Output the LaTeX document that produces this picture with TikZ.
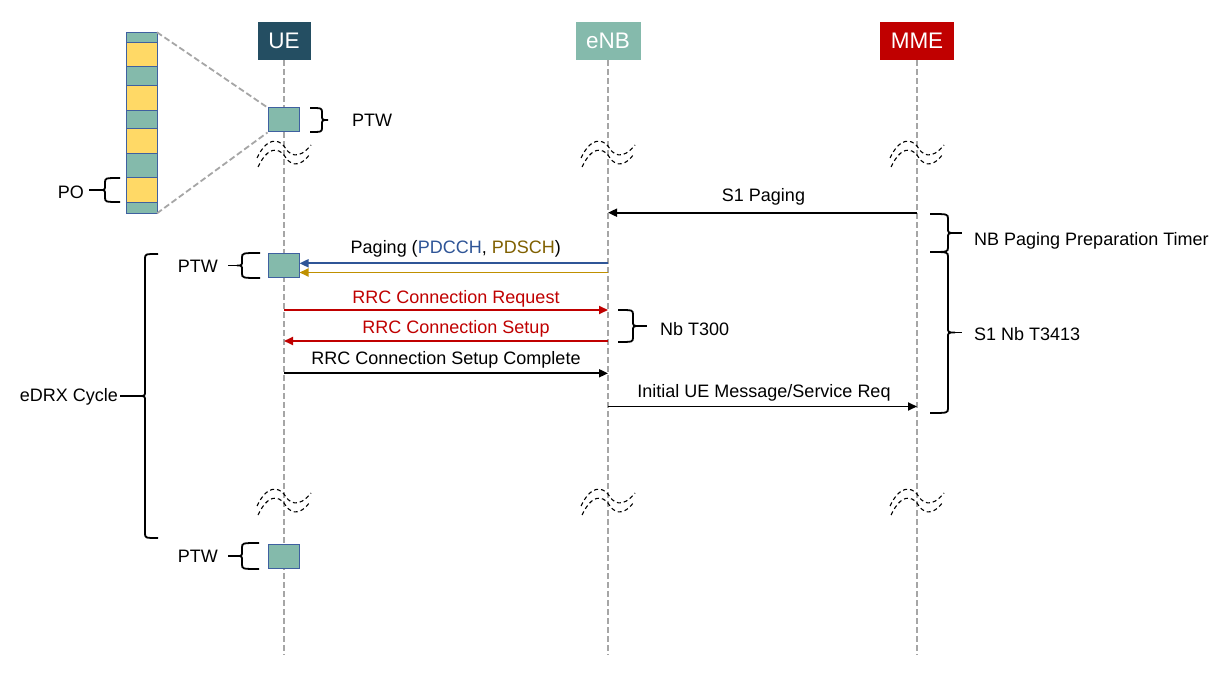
\documentclass[tikz,border=0pt]{standalone}
\usepackage{fontspec}
\setmainfont{Liberation Sans}
\usetikzlibrary{arrows.meta}
\definecolor{uecol}{HTML}{244E62}
\definecolor{enbcol}{HTML}{85BAAC}
\definecolor{mmecol}{HTML}{C00000}
\definecolor{tealc}{HTML}{84BAAB}
\definecolor{boxline}{HTML}{3F60A0}
\definecolor{yelc}{HTML}{FFD966}
\definecolor{bluec}{HTML}{2F5597}
\definecolor{goldc}{HTML}{BF9000}
\definecolor{goldtxt}{HTML}{806000}
\definecolor{redc}{HTML}{C00000}
\definecolor{lifec}{HTML}{A6A6A6}
\newcommand{\vbrace}[6]{%
 \pgfmathsetmacro{\brYm}{(#2+#3)/2}%
 \pgfmathsetmacro{\brV}{#1+#4}%
 \pgfmathsetmacro{\brT}{#1+#4+#5}%
 \draw[bracestyle] (#1,#2) .. controls (\brV,#2) .. (\brV,#2+5) -- (\brV,\brYm-5) .. controls (\brV,\brYm) .. (\brT,\brYm) .. controls (\brV,\brYm) .. (\brV,\brYm+5) -- (\brV,#3-5) .. controls (\brV,#3) .. (#1,#3);
 \draw[bracestyle] (\brT,\brYm) -- (#6,\brYm);
}
\begin{document}
\begin{tikzpicture}[x=1pt,y=-1pt,
  font=\fontsize{18}{21}\selectfont,
  hdr/.style={inner sep=0pt, minimum height=38pt, text=white, font=\fontsize{22.5}{24}\selectfont},
  life/.style={draw=lifec, line width=1.8pt, dash pattern=on 6pt off 3pt},
  zoomln/.style={draw=lifec, line width=1.8pt, dash pattern=on 6pt off 3pt},
  tbox/.style={draw=boxline, fill=tealc, line width=1pt, minimum width=31pt, minimum height=24pt, inner sep=0pt},
  msg/.style={line width=1.8pt, -{Triangle[length=9pt,width=8pt]}},
  lbl/.style={inner sep=0pt, anchor=base},
  txt/.style={inner sep=0pt},
  bracestyle/.style={line width=1.8pt, black},
  brkstyle/.style={line width=1.1pt, dash pattern=on 4pt off 3pt},
  brkpic/.pic={
    \draw[brkstyle] (-27,5) .. controls (-17,-16) and (-6,-14) .. (0,-7) .. controls (5,2) and (14,8) .. (27,-8);
    \draw[brkstyle] (-26,14) .. controls (-16,-7) and (-6,-5) .. (0,2) .. controls (5,11) and (14,17) .. (26,1);
  }
]
\useasboundingbox (0,0) rectangle (1232,676);
\fill[white] (0,0) rectangle (1232,676);

% headers
\node[hdr, fill=uecol, minimum width=53pt] (UE) at (284,41) {UE};
\node[hdr, fill=enbcol, minimum width=65pt] (ENB) at (608,41) {eNB};
\node[hdr, fill=mmecol, minimum width=74pt] (MME) at (917,41) {MME};
\coordinate (UEend) at (284,655);
\coordinate (ENBend) at (608,655);
\coordinate (MMEend) at (917,655);
\draw[life] (UE) -- (UEend);
\draw[life] (ENB) -- (ENBend);
\draw[life] (MME) -- (MMEend);

% breaks
\pic at (284,153) {brkpic};
\pic at (608,153) {brkpic};
\pic at (917,153) {brkpic};
\pic at (284,501) {brkpic};
\pic at (608,501) {brkpic};
\pic at (917,501) {brkpic};

% stack
\foreach \ya/\yb/\cc in {32.3/42.3/tealc, 42.3/66.3/yelc, 66.3/85.3/tealc, 85.3/110.3/yelc, 110.3/128.3/tealc, 128.3/153.3/yelc, 153.3/177.3/tealc, 177.3/202.3/yelc, 202.3/213.3/tealc}
  \filldraw[fill=\cc, draw=boxline, line width=0.8pt] (126,\ya) rectangle (157,\yb);
\coordinate (stTR) at (157,32.3);
\coordinate (stBR) at (157,213.3);

% PTW boxes
\node[tbox] (ptw1) at (283.5,120) {};
\node[tbox] (ptw2) at (283.5,265.5) {};
\node[tbox] (ptw3) at (283.5,556.5) {};
\draw[zoomln] (stTR) -- (ptw1.north west);
\draw[zoomln] (stBR) -- (ptw1.south west);

% braces and labels
\vbrace{310}{108}{132}{12}{6}{328}
\node[txt, anchor=base west] (lptw1) at (352,127) {PTW};
\vbrace{120}{178}{202}{-15}{-5}{89}
\node[txt, anchor=base east] (lpo) at (84,199) {PO};
\vbrace{260}{253}{278}{-18}{-5}{228}
\node[txt, anchor=base east] (lptw2) at (218,272.3) {PTW};
\vbrace{259}{543}{569}{-17}{-5}{228}
\node[txt, anchor=base east] (lptw3) at (218,562.7) {PTW};
\vbrace{158}{254}{538}{-13}{-6}{120}
\node[txt, anchor=base east] (ledrx) at (118,401.7) {eDRX Cycle};
\vbrace{930}{214}{252}{18}{7}{962}
\node[txt, anchor=base west] (lnbp) at (974,245.7) {NB Paging Preparation Timer};
\vbrace{930}{252}{413}{18}{7}{962}
\node[txt, anchor=base west] (ls1t) at (974,341) {S1 Nb T3413};
\vbrace{618}{310}{342}{15}{7}{647}
\node[txt, anchor=base west] (lt300) at (660,335.5) {Nb T300};

% messages
\coordinate (m1) at (917,212.7); \coordinate (e1) at (608,212.7);
\draw[msg] (m1) -- (e1) node[lbl, midway, yshift=11pt, xshift=1pt] {S1 Paging};
\coordinate (e2) at (608,263.3); \coordinate (e3) at (608,272.5);
\draw[msg, bluec] (e2) -- (ptw2.east |- e2) node[lbl, midway, yshift=10pt, xshift=2pt, text=black] {Paging (\textcolor{bluec}{PDCCH}, \textcolor{goldtxt}{PDSCH})};
\draw[msg, goldc] (e3) -- (ptw2.east |- e3);
\coordinate (u4) at (284,310); \coordinate (e4) at (608,310);
\draw[msg, redc] (u4) -- (e4) node[lbl, midway, yshift=6.7pt, xshift=10pt] {RRC Connection Request};
\coordinate (u5) at (284,341); \coordinate (e5) at (608,341);
\draw[msg, redc] (e5) -- (u5) node[lbl, midway, yshift=7pt, xshift=10pt] {RRC Connection Setup};
\coordinate (u6) at (284,373.3); \coordinate (e6) at (608,373.3);
\draw[msg] (u6) -- (e6) node[lbl, midway, yshift=8.3pt] {RRC Connection Setup Complete};
\coordinate (e7) at (608,406.5); \coordinate (m7) at (917,406.5);
\draw[msg] (e7) -- (m7) node[lbl, midway, yshift=9pt, xshift=1.5pt] {Initial UE Message/Service Req};
\end{tikzpicture}
\end{document}
